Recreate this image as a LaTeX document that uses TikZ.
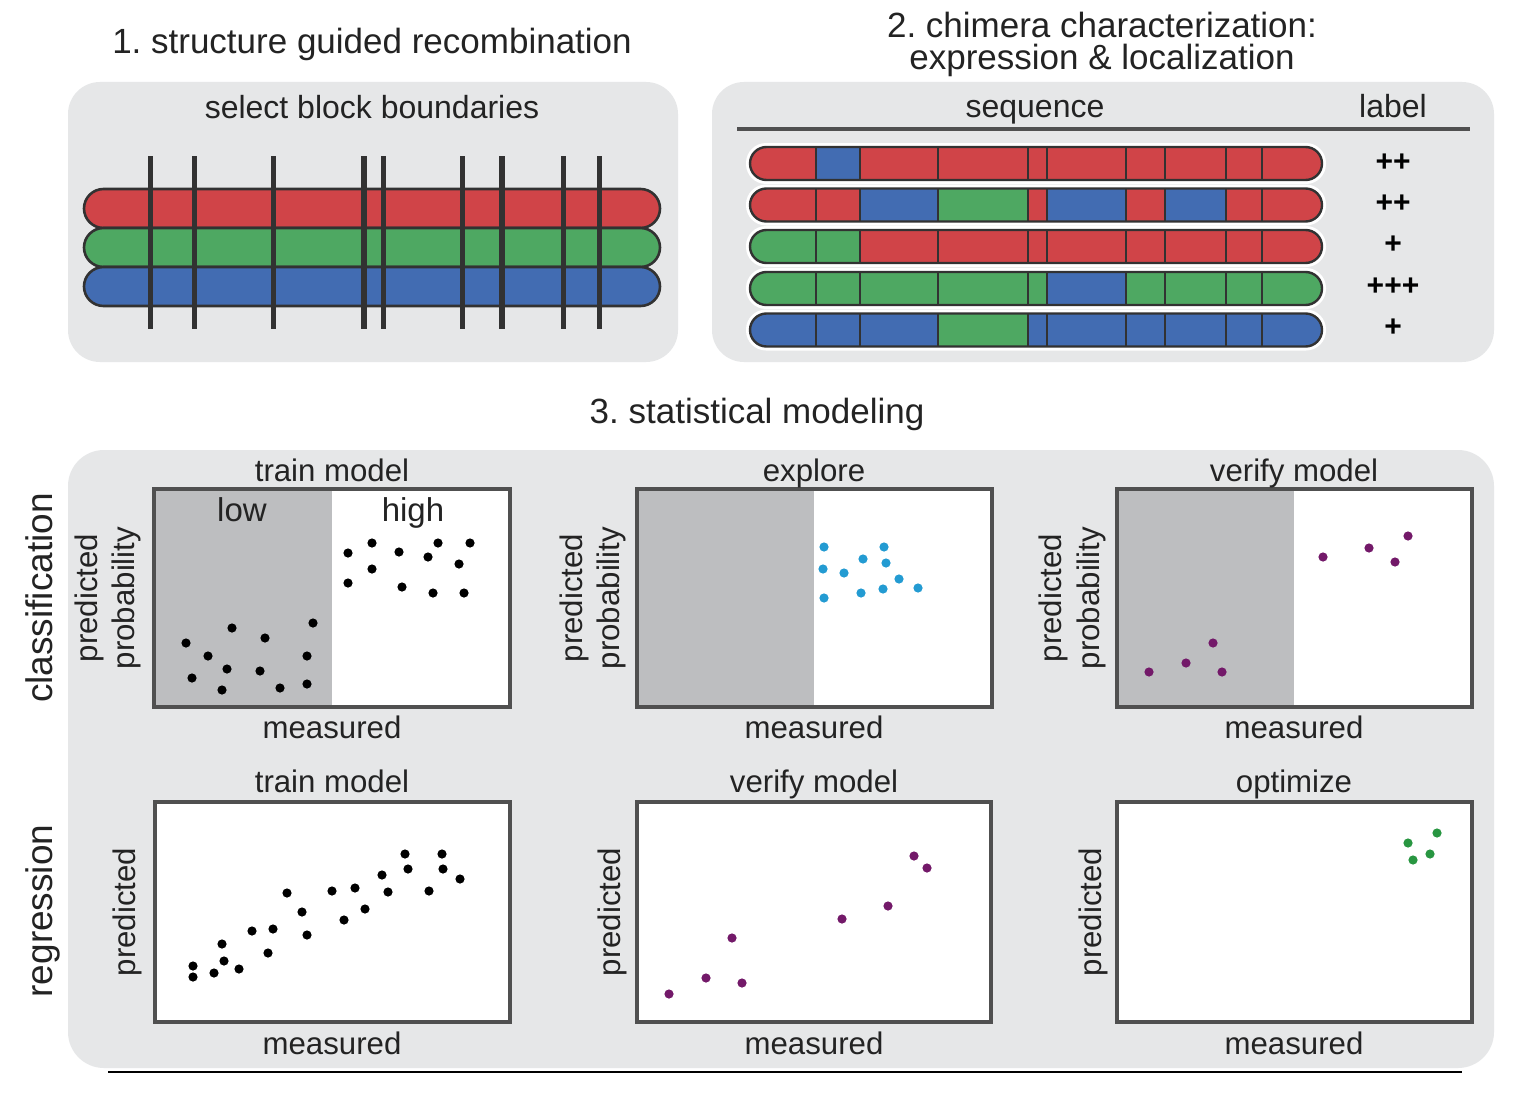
\documentclass[tikz,border=0pt]{standalone}
\usepackage{fontspec}
\setmainfont{Liberation Sans}
\frenchspacing
\definecolor{panelbg}{RGB}{230,231,232}
\definecolor{plotshade}{RGB}{189,190,192}
\definecolor{frame}{RGB}{80,80,80}
\definecolor{cR}{RGB}{208,68,72}
\definecolor{cG}{RGB}{78,168,98}
\definecolor{cB}{RGB}{66,108,178}
\definecolor{outl}{RGB}{50,50,50}
\definecolor{dotcyan}{RGB}{35,155,210}
\definecolor{dotpurple}{RGB}{115,25,105}
\definecolor{dotgreen}{RGB}{40,150,65}
\definecolor{txt}{RGB}{35,35,35}
\newcommand\bndlist{{750,816,860,938,1028,1047,1126,1165,1226,1262,1322}}
\newcommand\chimrow[2]{%
  \fill[white, rounded corners=10pt] (746,#1-20.5) rectangle (1326,#1+20.5);
  \begin{scope}
    \clip[rounded corners=8.25pt] (750,#1-16.5) rectangle (1322,#1+16.5);
    \foreach \c [count=\i from 0] in {#2} {
      \pgfmathsetmacro\xa{\bndlist[\i]}
      \pgfmathsetmacro\xb{\bndlist[\i+1]}
      \fill[\c] (\xa-0.5,#1-17) rectangle (\xb+0.5,#1+17);
    }
  \end{scope}
  \foreach \x in {816,860,938,1028,1047,1126,1165,1226,1262}
    \draw[segline] (\x,#1-16.5) -- (\x,#1+16.5);
  \draw[rowline, rounded corners=8.25pt] (750,#1-16.5) rectangle (1322,#1+16.5);
}
\begin{document}
\begin{tikzpicture}[x=0.5pt,y=-0.5pt,
  panel/.style={fill=panelbg, rounded corners=16pt},
  titletext/.style={font=\fontsize{17.5}{21}\selectfont, text=txt, anchor=base},
  subtext/.style={font=\fontsize{16}{19}\selectfont, text=txt, anchor=base},
  labtext/.style={font=\fontsize{15.6}{18}\selectfont, text=txt, anchor=base},
  ylab/.style={font=\fontsize{15.6}{18}\selectfont, text=txt, rotate=90},
  rowtext/.style={font=\fontsize{18.5}{22}\selectfont, text=txt, rotate=90, anchor=base},
  plustext/.style={font=\bfseries\fontsize{15}{18}\selectfont, text=black},
  plotframe/.style={draw=frame, line width=2pt},
  barline/.style={draw=outl, line width=1.3pt},
  cutline/.style={draw=outl, line width=2.6pt},
  segline/.style={draw=outl, line width=0.8pt},
  rowline/.style={draw=outl, line width=1.2pt},
  dotk/.style={fill=black},
  dotc/.style={fill=dotcyan},
  dotp/.style={fill=dotpurple},
  dotg/.style={fill=dotgreen}
]
\useasboundingbox (0,0) rectangle (1514,1097);
\fill[white] (0,0) rectangle (1514,1097);

% ---------- panel 1 ----------
\node[titletext] (t1) at (372,54) {1. structure guided recombination};
\fill[panel] (68,82) rectangle (678,362);
\node[subtext] (s1) at (372,119) {select block boundaries};
\draw[barline, fill=cR, rounded corners=9.75pt] (84,189) rectangle (660,228);
\draw[barline, fill=cG, rounded corners=9.75pt] (84,228) rectangle (660,267);
\draw[barline, fill=cB, rounded corners=9.75pt] (84,267) rectangle (660,306);
\foreach \x in {150.5,194.8,273.3,363.9,383.1,462.6,501.9,563.3,599.6}
  \draw[cutline] (\x,156) -- (\x,329);

% ---------- panel 2 ----------
\node[titletext] (t2a) at (1102,38) {2. chimera characterization:};
\node[titletext] (t2b) at (1102,70) {expression \& localization};
\fill[panel] (712,82) rectangle (1494,362);
\node[subtext] (seq) at (1035,118) {sequence};
\node[subtext] (lbl) at (1393,118) {label};
\draw[draw=frame, line width=2pt] (737,129) -- (1470,129);
\chimrow{163.5}{cR,cB,cR,cR,cR,cR,cR,cR,cR,cR}
\chimrow{205}{cR,cR,cB,cG,cR,cB,cR,cB,cR,cR}
\chimrow{246.5}{cG,cG,cR,cR,cR,cR,cR,cR,cR,cR}
\chimrow{288.5}{cG,cG,cG,cG,cG,cB,cG,cG,cG,cG}
\chimrow{330}{cB,cB,cB,cG,cB,cB,cB,cB,cB,cB}
\node[plustext] (p1) at (1393,163) {++};
\node[plustext] (p2) at (1393,204) {++};
\node[plustext] (p3) at (1393,245) {+};
\node[plustext] (p4) at (1393,287) {+++};
\node[plustext] (p5) at (1393,328) {+};

% ---------- panel 3 ----------
\node[titletext] (t3) at (757,423) {3. statistical modeling};
\fill[panel, rounded corners=18pt] (68,450) rectangle (1494,1068);
\node[rowtext] (rc) at (52,598) {classification};
\node[rowtext] (rr) at (52,911) {regression};

% shaded halves
\fill[plotshade] (154,489) rectangle (332,707);
\fill[white] (332,489) rectangle (510,707);
\fill[plotshade] (637,489) rectangle (814,707);
\fill[white] (814,489) rectangle (992,707);
\fill[plotshade] (1117,489) rectangle (1294,707);
\fill[white] (1294,489) rectangle (1472,707);
\fill[white] (155,802) rectangle (510,1022);
\fill[white] (637,802) rectangle (991,1022);
\fill[white] (1117,802) rectangle (1472,1022);

% plot A dots
\foreach \x/\y in {348/553,372/543,399/552,438/543,470/543,428/557,459/564,372/569,348/583,402/587,433/593,464/593,
  232/628,313/623,186/643,265/638,208/656,307/656,227/669,260/671,192/678,307/684,222/690,280/688}
  \fill[dotk] (\x,\y) circle[radius=2.3pt];
% plot B dots
\foreach \x/\y in {824/547,884/547,863/559,886/563,823/569,844/573,899/579,918/588,883/589,861/593,824/598}
  \fill[dotc] (\x,\y) circle[radius=2.3pt];
% plot C dots
\foreach \x/\y in {1323/557,1369/548,1395/562,1408/536,1213/643,1186/663,1222/672,1149/672}
  \fill[dotp] (\x,\y) circle[radius=2.3pt];
% plot D dots
\foreach \x/\y in {193/966,193/977,214/973,224/961,222/944,239/969,252/931,268/953,273/929,287/893,302/912,307/935,
  332/891,344/920,355/888,365/909,382/875,388/892,405/854,408/869,429/891,442/854,443/869,460/879}
  \fill[dotk] (\x,\y) circle[radius=2.3pt];
% plot E dots
\foreach \x/\y in {669/994,706/978,732/938,742/983,842/919,888/906,914/856,927/868}
  \fill[dotp] (\x,\y) circle[radius=2.3pt];
% plot F dots
\foreach \x/\y in {1408/843,1437/833,1430/854,1413/860}
  \fill[dotg] (\x,\y) circle[radius=2.3pt];

% frames
\draw[plotframe] (154,489) rectangle (510,707);
\draw[plotframe] (637,489) rectangle (992,707);
\draw[plotframe] (1117,489) rectangle (1472,707);
\draw[plotframe] (155,802) rectangle (510,1022);
\draw[plotframe] (637,802) rectangle (991,1022);
\draw[plotframe] (1117,802) rectangle (1472,1022);

% texts row 1
\node[labtext] (aT) at (332,481) {train model};
\node[labtext] (bT) at (814,481) {explore};
\node[labtext] (cT) at (1294,481) {verify model};
\node[labtext, font=\fontsize{16.5}{19}\selectfont] (lowT) at (242,521) {low};
\node[labtext, font=\fontsize{16.5}{19}\selectfont] (highT) at (413,521) {high};
\node[labtext] (aM) at (332,738) {measured};
\node[labtext] (bM) at (814,738) {measured};
\node[labtext] (cM) at (1294,738) {measured};
\node[ylab] (aY1) at (89,598) {predicted};
\node[ylab] (aY2) at (126,598) {probability};
\node[ylab] (bY1) at (574,598) {predicted};
\node[ylab] (bY2) at (611,598) {probability};
\node[ylab] (cY1) at (1053,598) {predicted};
\node[ylab] (cY2) at (1091,598) {probability};

% texts row 2
\node[labtext] (dT) at (332,792) {train model};
\node[labtext] (eT) at (814,792) {verify model};
\node[labtext] (fT) at (1294,792) {optimize};
\node[labtext] (dM) at (332,1054) {measured};
\node[labtext] (eM) at (814,1054) {measured};
\node[labtext] (fM) at (1294,1054) {measured};
\node[ylab] (dY) at (127,912) {predicted};
\node[ylab] (eY) at (612,912) {predicted};
\node[ylab] (fY) at (1093,912) {predicted};

% bottom rule
\draw[line width=1pt, black] (108,1072) -- (1462,1072);
\end{tikzpicture}
\end{document}
